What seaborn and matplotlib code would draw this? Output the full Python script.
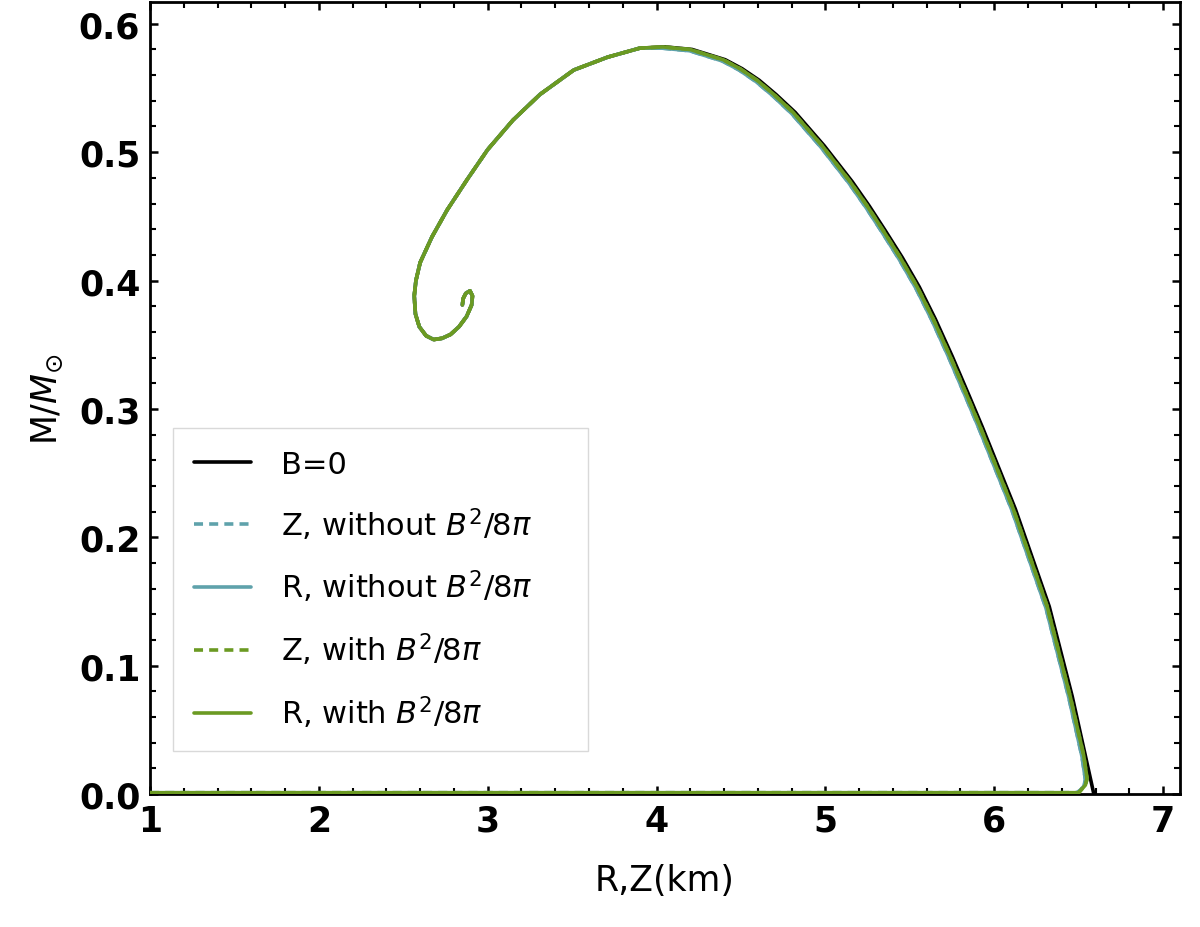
import numpy as np
import pandas as pd
import seaborn as sns
import matplotlib.pyplot as plt
from matplotlib.ticker import MultipleLocator, FormatStrFormatter

# upper / spiral part, shared by all curves (they overlap there)
top_r = [3.90, 3.71, 3.51, 3.31, 3.15, 3.00, 2.88, 2.76, 2.67, 2.60, 2.575, 2.565,
         2.572, 2.595, 2.635, 2.68, 2.73, 2.78, 2.83, 2.875, 2.905, 2.91, 2.895,
         2.87, 2.855, 2.85]
top_m = [0.581, 0.574, 0.564, 0.545, 0.525, 0.502, 0.479, 0.455, 0.434, 0.414, 0.400, 0.388,
         0.374, 0.364, 0.357, 0.354, 0.355, 0.358, 0.364, 0.372, 0.381, 0.388, 0.392,
         0.390, 0.386, 0.381]

# right branch, B=0
b0_r = [6.59, 6.462, 6.326, 6.125, 5.929, 5.852, 5.751, 5.651, 5.556, 5.455, 5.354, 5.26,
        5.159, 4.993, 4.821, 4.707, 4.608, 4.507, 4.407, 4.211, 4.051]
b0_m = [0.000, 0.076, 0.146, 0.222, 0.286, 0.310, 0.341, 0.370, 0.395, 0.418, 0.439, 0.458,
        0.477, 0.505, 0.531, 0.545, 0.556, 0.565, 0.572, 0.580, 0.582]

# right branch, with B^2/8pi (low-mass tail runs along M~0)
with_r = [1.00, 6.50, 6.52, 6.54, 6.55, 6.53, 6.45, 6.314, 6.113, 5.917, 5.840, 5.739, 5.639,
          5.544, 5.443, 5.342, 5.248, 5.147, 4.981, 4.809, 4.695, 4.596, 4.495, 4.395, 4.199, 4.039]
with_m = [0.001, 0.001, 0.004, 0.007, 0.012, 0.030, 0.076, 0.146, 0.222, 0.286, 0.310, 0.341, 0.370,
          0.395, 0.418, 0.439, 0.458, 0.477, 0.505, 0.531, 0.545, 0.556, 0.565, 0.572, 0.580, 0.582]

# right branch, without B^2/8pi
wo_r = [1.00, 6.49, 6.51, 6.53, 6.54, 6.52, 6.442, 6.306, 6.105, 5.909, 5.832, 5.731, 5.631,
        5.536, 5.435, 5.334, 5.240, 5.139, 4.973, 4.801, 4.688, 4.589, 4.489, 4.39, 4.195, 4.036]
wo_m = [0.001, 0.001, 0.003, 0.006, 0.011, 0.029, 0.075, 0.145, 0.221, 0.285, 0.309, 0.340, 0.369,
        0.394, 0.417, 0.438, 0.457, 0.476, 0.504, 0.530, 0.544, 0.555, 0.564, 0.571, 0.579, 0.581]

labels = ["B=0", r"Z, without $B^2/8\pi$", r"R, without $B^2/8\pi$",
          r"Z, with $B^2/8\pi$", r"R, with $B^2/8\pi$"]

sns.set_style("ticks")
plt.rcParams['font.family'] = ['DejaVu Sans']
plt.rcParams['mathtext.fontset'] = 'dejavusans'
plt.rcParams['text.color'] = 'black'
plt.rcParams['axes.labelcolor'] = 'black'
plt.rcParams['xtick.color'] = 'black'
plt.rcParams['ytick.color'] = 'black'

black = "#000000"
teal = "#5fa2ab"
olive = "#6b9a22"
lw = 2.6

curves = [
    (b0_r + top_r, b0_m + top_m, black, "", labels[0], 2),
    (wo_r + top_r, wo_m + top_m, teal, (2.5, 1.7), labels[1], 3),
    (wo_r + top_r, wo_m + top_m, teal, "", labels[2], 3),
    (with_r + top_r, with_m + top_m, olive, (2.5, 1.7), labels[3], 4),
    (with_r + top_r, with_m + top_m, olive, "", labels[4], 4),
]

fig = plt.figure(figsize=(12, 9.28), dpi=100)
ax = fig.add_axes([0.125, 0.1433, 0.8583, 0.8535])

for r, m, c, d, lab, z in curves:
    df = pd.DataFrame({"R": r, "M": m})
    sns.lineplot(data=df, x="R", y="M", sort=False, estimator=None, color=c,
                 lw=lw, ax=ax, label=lab, zorder=z)
    if d:
        ax.lines[-1].set_dashes(d)

ax.set_xlim(1, 7.1)
ax.set_ylim(0, 0.617)
ax.xaxis.set_major_locator(MultipleLocator(1))
ax.xaxis.set_minor_locator(MultipleLocator(0.2))
ax.yaxis.set_major_locator(MultipleLocator(0.1))
ax.yaxis.set_minor_locator(MultipleLocator(0.02))
ax.yaxis.set_major_formatter(FormatStrFormatter('%.1f'))
ax.tick_params(which='both', direction='in', top=True, right=True)
ax.tick_params(which='major', length=6, width=1.8, labelsize=25, pad=7)
ax.tick_params(which='minor', length=4, width=1.5)
for t in ax.get_xticklabels() + ax.get_yticklabels():
    t.set_fontweight('bold')
for s in ax.spines.values():
    s.set_linewidth(2)
    s.set_color('black')

ax.set_xlabel("R,Z(km)", fontsize=25, labelpad=18)
ax.set_ylabel(r"M/$M_{\odot}$", fontsize=25, labelpad=10)

leg = ax.legend(loc='lower left', bbox_to_anchor=(0.022, 0.054, 0.403, 0.3), mode='expand',
                borderaxespad=0, fontsize=22, frameon=True, fancybox=False,
                handlelength=1.86, handletextpad=1.0, labelspacing=0.86, borderpad=0.7)
leg.get_frame().set_edgecolor('#d0d0d0')
leg.get_frame().set_linewidth(1)

fig.savefig("out.png", dpi=100)
